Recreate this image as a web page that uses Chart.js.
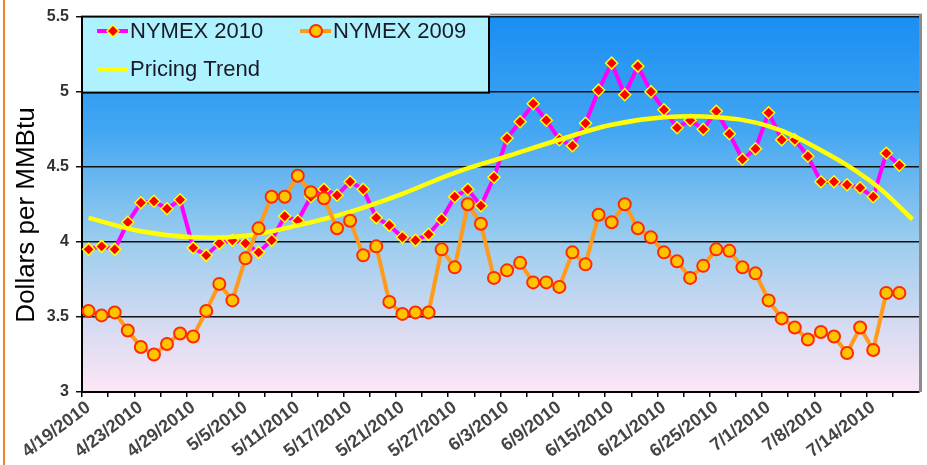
<!DOCTYPE html>
<html>
<head>
<meta charset="utf-8">
<title>NYMEX natural gas 2010 vs 2009</title>
<script src="https://cdn.jsdelivr.net/npm/chart.js@4.4.0/dist/chart.umd.min.js"></script>
<style>
    html, body { margin: 0; padding: 0; background: #ffffff; }
    #chart { display: block; }
</style>
</head>
<body>
<canvas id="chart" width="927" height="465"></canvas>
<script>
// Trading days, 4/19/2010 - 7/16/2010 (last one is the trend's forecast period)
var tradeDates = [
    '4/19/2010', '4/20/2010', '4/21/2010', '4/22/2010', '4/23/2010', '4/26/2010', '4/27/2010', '4/28/2010', '4/29/2010', '4/30/2010',
    '5/3/2010', '5/4/2010', '5/5/2010', '5/6/2010', '5/7/2010', '5/10/2010', '5/11/2010', '5/12/2010', '5/13/2010', '5/14/2010',
    '5/17/2010', '5/18/2010', '5/19/2010', '5/20/2010', '5/21/2010', '5/24/2010', '5/25/2010', '5/26/2010', '5/27/2010', '5/28/2010',
    '6/1/2010', '6/2/2010', '6/3/2010', '6/4/2010', '6/7/2010', '6/8/2010', '6/9/2010', '6/10/2010', '6/11/2010', '6/14/2010',
    '6/15/2010', '6/16/2010', '6/17/2010', '6/18/2010', '6/21/2010', '6/22/2010', '6/23/2010', '6/24/2010', '6/25/2010', '6/28/2010',
    '6/29/2010', '6/30/2010', '7/1/2010', '7/2/2010', '7/6/2010', '7/7/2010', '7/8/2010', '7/9/2010', '7/12/2010', '7/13/2010',
    '7/14/2010', '7/15/2010', '7/16/2010', '7/19/2010'
];

var nymex2010 = [
    3.95, 3.97, 3.95, 4.13, 4.26, 4.27, 4.22, 4.28, 3.96, 3.91,
    3.99, 4.01, 3.99, 3.93, 4.01, 4.17, 4.14, 4.30, 4.35, 4.31,
    4.40, 4.35, 4.16, 4.11, 4.03, 4.01, 4.05, 4.15, 4.30, 4.35,
    4.24, 4.43, 4.69, 4.80, 4.92, 4.81, 4.68, 4.64, 4.79, 5.01,
    5.19, 4.98, 5.17, 5.00, 4.88, 4.76, 4.81, 4.75, 4.87, 4.72,
    4.55, 4.62, 4.86, 4.68, 4.68, 4.57, 4.40, 4.40, 4.38, 4.36,
    4.30, 4.59, 4.51
];

var nymex2009 = [
    3.54, 3.51, 3.53, 3.41, 3.30, 3.25, 3.32, 3.39, 3.37, 3.54,
    3.72, 3.61, 3.89, 4.09, 4.30, 4.30, 4.44, 4.33, 4.29, 4.09,
    4.14, 3.91, 3.97, 3.60, 3.52, 3.53, 3.53, 3.95, 3.83, 4.25,
    4.12, 3.76, 3.81, 3.86, 3.73, 3.73, 3.70, 3.93, 3.85, 4.18,
    4.13, 4.25, 4.09, 4.03, 3.93, 3.87, 3.76, 3.84, 3.95, 3.94,
    3.83, 3.79, 3.61, 3.49, 3.43, 3.35, 3.40, 3.37, 3.26, 3.43,
    3.28, 3.66, 3.66
];

// Pricing trend every 4th trading day (gaps are spanned)
var pricingTrend = [
    4.16, null, null, null, 4.07, null, null, null, 4.03, null,
    null, null, 4.04, null, null, null, 4.11, null, null, null,
    4.20, null, null, null, 4.32, null, null, null, 4.46, null,
    null, null, 4.57, null, null, null, 4.68, null, null, null,
    4.78, null, null, null, 4.83, null, null, null, 4.83, null,
    null, null, 4.77, null, null, null, 4.61, null, null, null,
    4.39, null, null, 4.15
];

var yTicks = ['3', '3.5', '4', '4.5', '5', '5.5'];
var yTitle = 'Dollars per MMBtu';

var FONT = 'Arial, "Liberation Sans", sans-serif';

/**
 * Plot backdrop, frame edge, axis title and the boxed legend
 */
var decorPlugin = {
    id: 'decor',

    beforeDraw: function(chart) {
        var ctx = chart.ctx;
        var a = chart.chartArea;

        ctx.save();
        // orange frame edge on the left
        ctx.fillStyle = '#e8872c';
        ctx.fillRect(3, 0, 2, chart.height);

        // plot area gradient, deep blue to pale pink
        var g = ctx.createLinearGradient(0, a.top, 0, a.bottom);
        g.addColorStop(0, '#1a8ef2');
        g.addColorStop(0.3, '#42a6f2');
        g.addColorStop(0.6, '#9ccdee');
        g.addColorStop(0.85, '#dcdcf2');
        g.addColorStop(1, '#fce6f6');
        ctx.fillStyle = g;
        ctx.fillRect(a.left, a.top, a.right - a.left, a.bottom - a.top);

        // y axis title, sits a little below the axis centre
        ctx.translate(27, 215);
        ctx.rotate(-Math.PI / 2);
        ctx.fillStyle = '#000000';
        ctx.font = '26px ' + FONT;
        ctx.textAlign = 'center';
        ctx.textBaseline = 'middle';
        ctx.fillText(yTitle, 0, 0);
        ctx.restore();
    },

    afterDraw: function(chart) {
        var ctx = chart.ctx;
        var a = chart.chartArea;
        var ds = chart.data.datasets;

        ctx.save();
        // gray shadow edge on the right
        ctx.fillStyle = '#8c8c8c';
        ctx.fillRect(a.right, a.top - 3, 3, a.bottom - a.top + 3);
        ctx.fillRect(490, a.top - 3, a.right - 490, 2);

        // legend box
        var bx = a.left, by = a.top, bw = 407, bh = 76;
        ctx.fillStyle = '#aef2ff';
        ctx.fillRect(bx, by, bw, bh);
        ctx.strokeStyle = '#000000';
        ctx.lineWidth = 2;
        ctx.strokeRect(bx, by, bw, bh);

        var items = [
            { set: ds[0], x: 97, y: 31 },
            { set: ds[2], x: 300, y: 31 },
            { set: ds[1], x: 97, y: 69 }
        ];

        items.forEach(function(it) {
            var s = it.set;
            ctx.strokeStyle = s.borderColor;
            ctx.lineWidth = 4;
            ctx.beginPath();
            ctx.moveTo(it.x, it.y);
            ctx.lineTo(it.x + 31, it.y);
            ctx.stroke();

            if (s.pointRadius > 0) {
                var cx = it.x + 16;
                ctx.fillStyle = s.pointBackgroundColor;
                ctx.strokeStyle = s.pointBorderColor;
                ctx.lineWidth = s.pointBorderWidth;
                ctx.beginPath();
                if (s.pointStyle === 'rectRot') {
                    ctx.moveTo(cx, it.y - 6);
                    ctx.lineTo(cx + 6, it.y);
                    ctx.lineTo(cx, it.y + 6);
                    ctx.lineTo(cx - 6, it.y);
                    ctx.closePath();
                } else {
                    ctx.arc(cx, it.y, 6, 0, Math.PI * 2);
                }
                ctx.fill();
                ctx.stroke();
            }

            ctx.fillStyle = '#1a1a26';
            ctx.font = '22px ' + FONT;
            ctx.textBaseline = 'middle';
            ctx.textAlign = 'left';
            ctx.fillText(s.label, it.x + 33, it.y + 1);
        });
        ctx.restore();
    }
};

var ctx = document.getElementById('chart').getContext('2d');

new Chart(ctx, {
    type: 'line',
    data: {
        labels: tradeDates,
        datasets: [{
            label: 'NYMEX 2010',
            data: nymex2010,
            borderColor: '#ff00ff',
            borderWidth: 4,
            pointStyle: 'rectRot',
            pointRadius: 6,
            pointBackgroundColor: '#ff0000',
            pointBorderColor: '#ffff00',
            pointBorderWidth: 1.5,
            tension: 0,
            order: 2
        }, {
            label: 'Pricing Trend',
            data: pricingTrend,
            borderColor: '#ffff00',
            borderWidth: 4.5,
            pointRadius: 0,
            spanGaps: true,
            tension: 0.4,
            order: 1
        }, {
            label: 'NYMEX 2009',
            data: nymex2009,
            borderColor: '#ff9a1a',
            borderWidth: 4,
            pointStyle: 'circle',
            pointRadius: 6,
            pointBackgroundColor: '#ffc400',
            pointBorderColor: '#ff2a00',
            pointBorderWidth: 2,
            tension: 0,
            order: 0
        }]
    },
    options: {
        responsive: false,
        animation: false,
        devicePixelRatio: 1,
        layout: {
            padding: { left: 0, right: 8, top: 12, bottom: 0 }
        },
        plugins: {
            legend: { display: false },
            tooltip: { enabled: false }
        },
        scales: {
            x: {
                offset: true,
                grid: {
                    drawOnChartArea: false,
                    offset: true,
                    tickLength: 5,
                    lineWidth: 1.5,
                    tickColor: function(c) {
                        return c.index % 2 === 0 ? '#000000' : 'rgba(0,0,0,0)';
                    }
                },
                border: { color: '#000000', width: 2 },
                ticks: {
                    autoSkip: false,
                    minRotation: 37,
                    maxRotation: 37,
                    padding: 0,
                    color: '#444444',
                    font: { family: FONT, size: 18, weight: 'bold' },
                    callback: function(v, i) {
                        return (i % 4 === 0 && i <= 60) ? this.getLabelForValue(v) : '';
                    }
                },
                afterFit: function(scale) {
                    scale.height = 73;
                }
            },
            y: {
                min: 3,
                max: 5.5,
                grid: {
                    color: '#111111',
                    lineWidth: 1.5,
                    tickLength: 6,
                    tickColor: '#111111'
                },
                border: { color: '#000000', width: 2 },
                ticks: {
                    stepSize: 0.5,
                    padding: 7,
                    color: '#333333',
                    font: { family: FONT, size: 16, weight: 'bold' },
                    callback: function(v) {
                        var s = String(v);
                        return yTicks.indexOf(s) >= 0 ? s : '';
                    }
                },
                afterFit: function(scale) {
                    scale.width = 82;
                }
            }
        }
    },
    plugins: [decorPlugin]
});
</script>
</body>
</html>
